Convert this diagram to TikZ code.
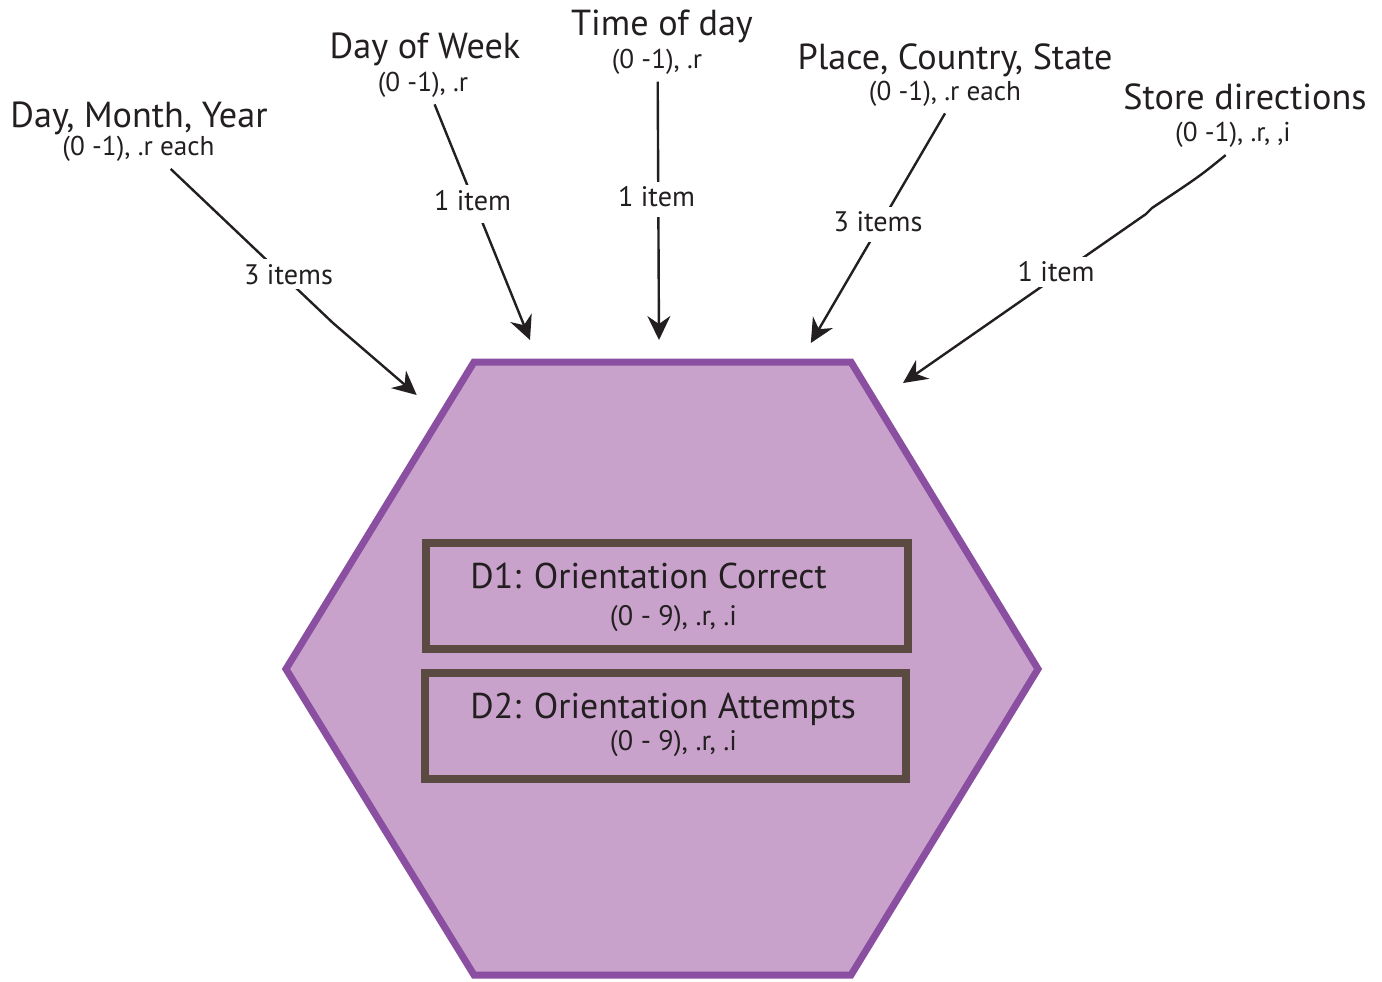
\documentclass[tikz,border=0pt]{standalone}
\usepackage{fontspec}
\setmainfont{PT Sans}
\usetikzlibrary{arrows.meta}
\definecolor{hexfill}{HTML}{C9A2CC}
\definecolor{hexline}{HTML}{8A4FA0}
\definecolor{boxline}{HTML}{5A4A42}
\definecolor{ink}{HTML}{231F20}
\begin{document}
\begin{tikzpicture}[x=0.5pt,y=-0.5pt,
  every node/.style={text=ink, inner sep=0pt},
  ttl/.style={font=\fontsize{18.1}{20}\selectfont, anchor=base},
  sub/.style={font=\fontsize{13.6}{15}\selectfont, anchor=base, inner sep=3.5pt},
  itm/.style={font=\fontsize{14.1}{16}\selectfont, anchor=base, fill=white, inner sep=2.5pt, text depth=0pt},
  conn/.style={draw=ink, line width=1.2pt, -{Stealth[length=12pt,width=11.5pt,inset=4pt]}},
  dbox/.style={draw=boxline, line width=4pt},
  dttl/.style={font=\fontsize{17.9}{20}\selectfont, anchor=base west},
  dsub/.style={font=\fontsize{14.1}{16}\selectfont, anchor=base},
]
\useasboundingbox (0,0) rectangle (1382,981);

% hexagon
\filldraw[fill=hexfill, draw=hexline, line width=3.5pt, line join=miter]
  (474,362) -- (851,362) -- (1038,669) -- (851,975) -- (474,975) -- (286,669) -- cycle;

% D boxes
\draw[dbox] (426,543) rectangle (908,649);
\draw[dbox] (425,673) rectangle (906,779);
\node[dttl] (d1) at (470,588) {D1: Orientation Correct};
\node[dsub] (d1s) at (673.5,625) {(0 - 9), .r, .i};
\node[dttl] (d2) at (470,718) {D2: Orientation Attempts};
\node[dsub] (d2s) at (673.5,750) {(0 - 9), .r, .i};

% top titles
\node[ttl] (t1) at (139,127) {Day, Month, Year};
\node[sub] (s1) at (138.5,155.5) {(0 -1), .r each};
\node[ttl] (t2) at (425,58.3) {Day of Week};
\node[sub] (s2) at (423,91) {(0 -1), .r};
\node[ttl] (t3) at (662,35) {Time of day};
\node[sub] (s3) at (657,68.3) {(0 -1), .r};
\node[ttl] (t4) at (955,69.3) {Place, Country, State};
\node[sub] (s4) at (945,100) {(0 -1), .r each};
\node[ttl] (t5) at (1245,109) {Store directions};
\node[sub] (s5) at (1233,141.7) {(0 -1), .r, ,i};

% arrow ends
\coordinate (b1) at (333,323);
\coordinate (h1) at (416.7,395);
\coordinate (h2) at (530,340);
\coordinate (h3) at (659,340);
\coordinate (h4) at (810.8,343);
\coordinate (w5) at (1152,208);
\coordinate (k5) at (1146,214);
\coordinate (h5) at (903,383);

% connectors
\draw[conn] (s1.-32) -- (b1) -- (h1);
\draw[conn] (s2.-60) -- (h2);
\draw[conn] (s3.-88) -- (h3);
\draw[conn] (s4.south) -- (h4);
\draw[conn] (s5.-110) .. controls (1200,176) .. (w5) -- (k5) -- (h5);

% connector labels
\node[itm] (l1) at (288.5,284) {3 items};
\node[itm, text depth=4pt] (l2) at (472.5,210) {1 item};
\node[itm, text depth=2.5pt] (l3) at (656.5,206.7) {1 item};
\node[itm, text depth=2.5pt] (l4) at (878,231.7) {3 items};
\node[itm] (l5) at (1056,281.7) {1 item};
\end{tikzpicture}
\end{document}
